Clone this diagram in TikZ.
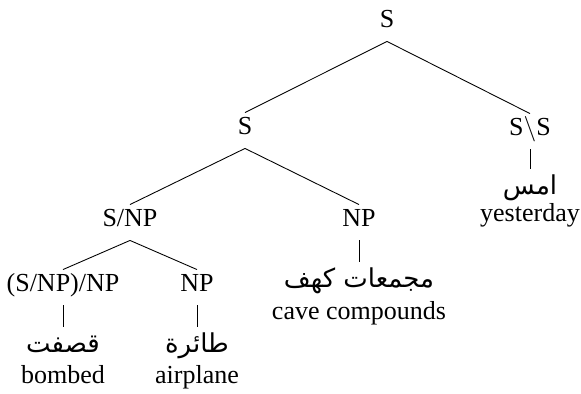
\documentclass[tikz,border=0pt]{standalone}
\usepackage{fontspec}
\setmainfont{Liberation Serif}
\newfontfamily\arabicfont[Script=Arabic]{DejaVu Sans}
\TeXXeTstate=1
\usepackage{tikz}
\usetikzlibrary{calc}

\begin{document}
\begin{tikzpicture}[font=\fontsize{14.8}{18}\selectfont, line width=0.5pt,
    cat/.style={anchor=base, inner sep=0.05cm, text height=0.39cm, text depth=0.21cm},
    arab/.style={anchor=north, inner sep=0.05cm, text height=0.45cm, text depth=0.1cm,
      font=\fontsize{14.8}{18}\selectfont\arabicfont},
    gloss/.style={anchor=base, inner sep=0pt}]
    \useasboundingbox (0,0) rectangle (11.62,-7.88);

    \node[cat] (Stop) at (7.74,-0.56) {S};
    \node[cat] (Smid) at (4.90,-2.70) {S};
    \node[cat] (SbS) at (10.60,-2.72) {S$\backslash$S};

    \node[cat] (SNP) at (2.60,-4.54) {S/NP};
    \node[cat] (NPc) at (7.18,-4.54) {NP};

    \node[cat] (SNPNP) at (1.26,-5.84) {(S/NP)/NP};
    \node[cat] (NPa) at (3.94,-5.84) {NP};

    \draw (Stop.south) -- (Smid.north);
    \draw (Stop.south) -- (SbS.north);
    \draw (Smid.south) -- (SNP.north);
    \draw (Smid.south) -- (NPc.north);
    \draw (SNP.south) -- (SNPNP.north);
    \draw (SNP.south) -- (NPa.north);

    \node[arab] (qsft) at ($ (SNPNP.south) + (0,-0.44) $) {\beginR قصفت\endR};
    \node[arab] (taira) at ($ (NPa.south) + (0,-0.44) $) {\beginR طائرة\endR};
    \node[arab] (kahf) at ($ (NPc.south) + (0,-0.44) $) {\beginR مجمعات كهف\endR};
    \node[arab] (ams) at ($ (SbS.south) + (0,-0.40) $) {\beginR امس\endR};

    \draw (SNPNP.south) -- (qsft.north);
    \draw (NPa.south) -- (taira.north);
    \draw (NPc.south) -- (kahf.north);
    \draw (SbS.south) -- (ams.north);

    \node[gloss] (bombed) at (1.26,-7.68) {bombed};
    \node[gloss] (airplane) at (3.94,-7.68) {airplane};
    \node[gloss] (cave) at (7.18,-6.38) {cave compounds};
    \node[gloss] (yesterday) at (10.60,-4.42) {yesterday};

  \end{tikzpicture}
\end{document}
